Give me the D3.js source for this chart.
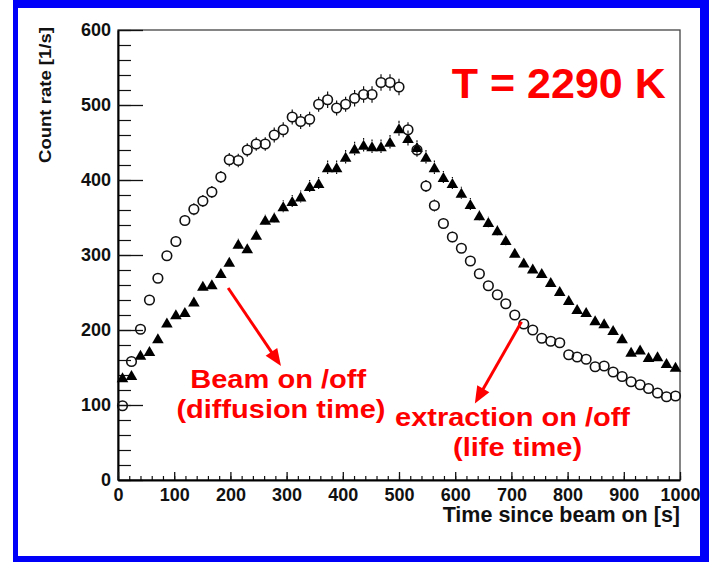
<!DOCTYPE html>
<html><head><meta charset="utf-8">
<script src="https://cdn.jsdelivr.net/npm/d3@7"></script>
<style>body{margin:0;background:#fff}svg{display:block}</style>
</head><body>
<svg id="c" width="709" height="562"></svg>
<script>
// ---- data ----
const times = [8,24,40,56,71,87,103,119,135,151,167,183,198,214,230,246,262,278,294,310,325,341,357,373,389,405,421,437,452,468,484,500,516,532,548,563,579,595,611,627,643,659,675,690,706,722,738,754,770,786,802,817,833,849,865,881,897,913,929,944,960,976,992];
// circles: extraction on/off (life time)
const extractionRate = [99,158,201,240,269,299,318,346,361,372,384,404,427,426,440,448,448,460,467,484,478,481,501,507,496,501,509,514,514,530,530,524,467,440,392,366,342,324,309,292,275,259,247,235,220,208,200,189,185,183,167,164,161,151,152,144,138,131,127,122,116,111,112];
const extractionErr = [2,3,4,5,6,6,7,7,8,8,8,8,9,9,9,9,9,10,10,10,10,10,10,11,10,10,11,11,11,11,11,11,10,9,8,8,7,7,6,6,6,5,5,5,5,4,4,4,4,4,4,3,3,3,3,3,3,3,3,3,2,2,2];
// triangles: beam on/off (diffusion time)
const beamRate = [137,140,167,172,189,210,221,224,238,259,261,276,291,315,309,327,347,350,365,372,378,392,396,417,417,431,442,447,445,445,451,469,456,444,431,417,404,396,383,368,353,344,333,320,303,290,282,276,264,252,240,228,224,213,209,200,189,171,174,164,165,156,151];
const beamErr = [3,3,4,4,4,4,5,5,5,5,5,6,6,7,6,7,7,7,8,8,8,8,8,9,9,9,9,9,9,9,9,10,10,9,9,9,8,8,8,8,7,7,7,7,6,6,6,6,6,5,5,5,5,4,4,4,4,4,4,3,3,3,3];
const xTicks = [0,100,200,300,400,500,600,700,800,900,1000];
const yTicks = [0,100,200,300,400,500,600];
const xTitle = "Time since beam on [s]";
const yTitle = "Count rate [1/s]";
const tempLabel = "T = 2290 K";
const beamLabel = ["Beam on /off", "(diffusion time)"];
const extrLabel = ["extraction on /off", "(life time)"];

const svg = d3.select("#c");
const W = 709, H = 562;
const FONT = "'Liberation Sans', Arial, Helvetica, sans-serif";

// blue frame
svg.append("rect").attr("x",13).attr("y",0).attr("width",W-13).attr("height",H).attr("fill","#0000fa");
svg.append("rect").attr("x",18).attr("y",8).attr("width",682).attr("height",548).attr("fill","#fff");

const x = d3.scaleLinear().domain([0,1000]).range([118,680]);
const y = d3.scaleLinear().domain([0,600]).range([480,30]);

// frame
svg.append("rect").attr("x",x(0)).attr("y",y(600)).attr("width",x(1000)-x(0)).attr("height",y(0)-y(600))
  .attr("fill","none").attr("stroke","#444").attr("stroke-width",1.3);

// minor ticks
const yMinor = svg.append("g").attr("transform",`translate(${x(0)},0)`)
  .call(d3.axisLeft(y).tickValues(d3.range(0,601,20)).tickSize(-13).tickFormat(""));
const xMinor = svg.append("g").attr("transform",`translate(0,${y(0)})`)
  .call(d3.axisBottom(x).tickValues(d3.range(0,1001,20)).tickSize(-4).tickFormat(""));
[yMinor,xMinor].forEach(g=>{g.select(".domain").remove();g.selectAll("line").attr("stroke","#111").attr("stroke-width",1.2);});

// major axes
const yAx = svg.append("g").attr("transform",`translate(${x(0)},0)`)
  .call(d3.axisLeft(y).tickValues(yTicks).tickSizeInner(-25).tickSizeOuter(0).tickPadding(7).tickFormat(d3.format("d")));
const xAx = svg.append("g").attr("transform",`translate(0,${y(0)})`)
  .call(d3.axisBottom(x).tickValues(xTicks).tickSizeInner(-8).tickSizeOuter(0).tickPadding(8).tickFormat(d3.format("d")));
[yAx,xAx].forEach(g=>{
  g.select(".domain").attr("stroke","#000").attr("stroke-width",2);
  g.selectAll("line").attr("stroke","#111").attr("stroke-width",1.3);
  g.selectAll("text").attr("font-family",FONT).attr("font-weight","bold").attr("font-size",18).attr("fill","#111");
});

// axis titles
svg.append("text").attr("font-family",FONT).attr("font-weight","bold").attr("font-size",21.5).attr("fill","#111")
  .attr("text-anchor","end").attr("x",x(1000)).attr("y",522).text(xTitle);
svg.append("text").attr("font-family",FONT).attr("font-weight","bold").attr("font-size",16.5).attr("fill","#111")
  .attr("text-anchor","end").attr("transform","translate(51,27) rotate(-90)")
  .attr("textLength",136).attr("lengthAdjust","spacingAndGlyphs").text(yTitle);

// data
const circ = times.map((t,i)=>({t, v:extractionRate[i], e:extractionErr[i]}));
const tri = times.map((t,i)=>({t, v:beamRate[i], e:beamErr[i]}));
const R = 4.8, TH = 5, TW = 5.8;

function errBars(data, gap, cls){
  const g = svg.append("g").attr("class",cls).attr("stroke","#111").attr("stroke-width",1.2);
  data.forEach(d=>{
    const yc = y(d.v), yt = y(d.v + d.e), yb = y(d.v - d.e);
    if (yc - yt > gap) g.append("line").attr("x1",x(d.t)).attr("x2",x(d.t)).attr("y1",yt).attr("y2",yc-gap);
    if (yb - yc > gap) g.append("line").attr("x1",x(d.t)).attr("x2",x(d.t)).attr("y1",yc+gap).attr("y2",yb);
  });
}
errBars(tri, TH, "err-tri");
errBars(circ, R, "err-circ");

svg.append("g").selectAll("path").data(tri).join("path")
  .attr("transform",d=>`translate(${x(d.t)},${y(d.v)})`)
  .attr("d",`M0,${-TH}L${TW},${TH}L${-TW},${TH}Z`).attr("fill","#000");
svg.append("g").selectAll("circle").data(circ).join("circle")
  .attr("cx",d=>x(d.t)).attr("cy",d=>y(d.v)).attr("r",R)
  .attr("fill","none").attr("stroke","#111").attr("stroke-width",1.6);

// annotations
const RED = "#ff0000";
svg.append("text").attr("font-family",FONT).attr("font-weight","bold").attr("font-size",43).attr("fill",RED)
  .attr("x",x(594)).attr("y",y(509)).text(tempLabel);

function label(lines, tc, v0, v1, lens){
  [v0,v1].forEach((v,i)=>{
    svg.append("text").attr("font-family",FONT).attr("font-weight","bold").attr("font-size",25).attr("fill",RED)
      .attr("text-anchor","middle").attr("x",x(tc[i])).attr("y",y(v))
      .attr("textLength",lens[i]).attr("lengthAdjust","spacingAndGlyphs").text(lines[i]);
  });
}
label(beamLabel,[285,290],123,83,[176,209]);
label(extrLabel,[702,711],72,32,[235,129]);

function arrow(t0,v0,t1,v1){
  const x0=x(t0), y0=y(v0), x1=x(t1), y1=y(v1);
  const dx=x1-x0, dy=y1-y0, L=Math.hypot(dx,dy), ux=dx/L, uy=dy/L;
  const hl=17, hw=7;
  const bx=x1-ux*hl, by=y1-uy*hl;
  svg.append("line").attr("x1",x0).attr("y1",y0).attr("x2",bx+ux*2).attr("y2",by+uy*2)
    .attr("stroke",RED).attr("stroke-width",3);
  svg.append("path").attr("d",`M${x1},${y1}L${bx-uy*hw},${by+ux*hw}L${bx+uy*hw},${by-ux*hw}Z`).attr("fill",RED);
}
arrow(196,256,290,152);
arrow(718,211,635,102);
</script>
</body></html>
